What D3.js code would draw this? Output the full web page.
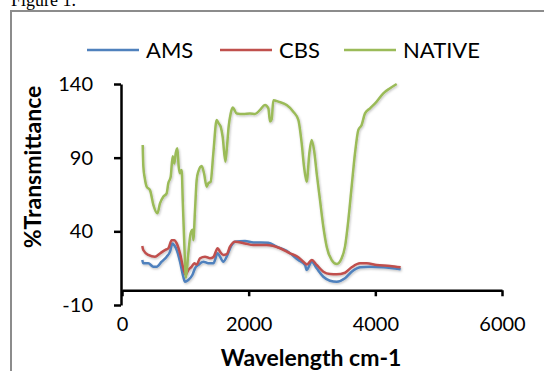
<!DOCTYPE html>
<html>
<head>
<meta charset="utf-8">
<script src="https://cdn.jsdelivr.net/npm/d3@7"></script>
<style>
  body { margin: 0; background: #fff; }
  svg { display: block; }
</style>
</head>
<body>
<div id="chart-area"></div>
<script>
// wavenumbers (cm-1) and %T
const amsWave = [320, 336, 415, 495, 548, 626, 705, 758, 795, 826, 864, 916, 968, 995, 1047, 1111, 1153, 1205, 1284, 1363, 1442, 1511, 1547, 1600, 1653, 1732, 1784, 1942, 2074, 2311, 2442, 2600, 2784, 2890, 2916, 2995, 3074, 3179, 3284, 3390, 3521, 3626, 3758, 3916, 4126, 4400]
const amsT = [20.5, 18.3, 18.3, 16, 16, 19.4, 22.8, 26.2, 31.8, 30.5, 27.3, 19.4, 9.2, 5.8, 7, 10.4, 14.9, 17.2, 19.4, 18.3, 18.3, 25.1, 22.8, 19.4, 22.8, 30.7, 33, 33.4, 32.5, 32.3, 29.6, 26.8, 20.5, 17.2, 13.8, 19.4, 14.9, 9.2, 6.5, 5.8, 8.1, 12.6, 15.6, 16, 15.6, 14.2]

const cbsWave = [320, 336, 415, 521, 600, 679, 731, 785, 826, 864, 916, 968, 1006, 1047, 1100, 1142, 1179, 1232, 1311, 1389, 1442, 1511, 1547, 1600, 1653, 1705, 1784, 1942, 2074, 2284, 2495, 2653, 2784, 2890, 2920, 2995, 3074, 3179, 3284, 3390, 3521, 3626, 3758, 3863, 4021, 4232, 4400]
const cbsT = [30, 27.3, 24, 22.8, 25, 27.3, 28.4, 34, 34, 31.8, 25, 15, 10.5, 13.8, 16, 18.3, 17.5, 21.7, 22.8, 21.7, 22.5, 28.5, 26.2, 24, 24.5, 29.6, 33, 31.8, 30.7, 30.7, 28.5, 25.1, 22.4, 18.3, 17.5, 20.5, 17.2, 12.6, 11, 10.8, 11.9, 15.6, 18.3, 18.3, 17.2, 16.5, 15.6]

const nativeWave = [327, 337, 360, 390, 442, 495, 558, 600, 652, 705, 731, 769, 800, 826, 848, 874, 895, 916, 942, 960, 985, 1010, 1047, 1084, 1116, 1126, 1153, 1179, 1205, 1258, 1295, 1337, 1363, 1400, 1442, 1495, 1526, 1558, 1590, 1632, 1653, 1684, 1716, 1748, 1811, 1916, 2021, 2100, 2179, 2258, 2311, 2337, 2363, 2390, 2468, 2600, 2705, 2784, 2837, 2874, 2916, 2958, 2995, 3032, 3074, 3126, 3179, 3232, 3311, 3390, 3468, 3521, 3574, 3626, 3679, 3732, 3784, 3837, 3916, 4021, 4126, 4232, 4337]
const nativeT = [98.6, 84, 76, 70.3, 68, 58, 52.2, 59, 63.5, 65.8, 72.6, 77, 91, 86, 93, 96.4, 84, 79.4, 81.6, 60, 30, 8.5, 25, 38.7, 41, 34, 54.5, 74.8, 80.5, 84.3, 79.4, 70.3, 72.6, 73.7, 93, 115.6, 113.3, 111, 104, 87.3, 95, 111, 120, 124, 120, 119.6, 120, 119.6, 122.4, 125.7, 123.5, 114.5, 116, 129, 128, 125.7, 121.2, 115.6, 99.8, 84, 73.7, 93, 102, 95.2, 79.4, 61.3, 43.1, 29.6, 20.5, 17.8, 21.7, 29.6, 47.7, 70.3, 93, 108.8, 112.2, 120.1, 123.5, 128, 133.7, 137.1, 140]

const seriesNames = ["AMS", "CBS", "NATIVE"]
const seriesColors = ["#4F81BD", "#C0504D", "#9BBB59"]
const xTicks = [0, 2000, 4000, 6000]
const yTicks = [-10, 40, 90, 140]

const W = 544, H = 371
const FONT = "Lato, Calibri, Carlito, sans-serif"

const svg = d3.select("#chart-area")
  .append("svg")
    .attr("width", W)
    .attr("height", H)

// drop shadow like the office chart lines
const filt = svg.append("defs").append("filter")
  .attr("id", "shadow")
  .attr("x", "-5%").attr("y", "-5%")
  .attr("width", "110%").attr("height", "110%")
filt.append("feDropShadow")
  .attr("dx", 0.8).attr("dy", 1.2)
  .attr("stdDeviation", 0.9)
  .attr("flood-color", "#000")
  .attr("flood-opacity", 0.25)

// caption, cut at the top like in the scan
svg.append("text")
  .attr("x", 11)
  .attr("y", 6)
  .attr("font-family", "'Liberation Serif', 'Times New Roman', serif")
  .attr("font-size", "18px")
  .text("Figure 1.")

// chart border (runs off the frame on right and bottom)
svg.append("rect")
  .attr("x", 11)
  .attr("y", 11)
  .attr("width", 600)
  .attr("height", 400)
  .attr("fill", "none")
  .attr("stroke", "#8c8c8c")
  .attr("stroke-width", 2)

const x = d3.scaleLinear()
  .domain([0, 6000])
  .range([122, 502])

const y = d3.scaleLinear()
  .domain([-10, 140])
  .range([305, 84])

// y axis
const yAxis = svg.append("g")
  .attr("transform", "translate(121, 0)")
  .call(d3.axisLeft(y).tickValues(yTicks).tickFormat(d => String(d))
    .tickSize(7).tickSizeOuter(0).tickPadding(21))
yAxis.selectAll("path, line").attr("stroke", "#000").attr("stroke-width", 2.5)
yAxis.selectAll("text")
  .attr("font-family", FONT)
  .attr("font-size", "20px")
  .attr("fill", "#000")

// x axis crosses at 0
const xAxis = svg.append("g")
  .attr("transform", `translate(0, ${y(0)})`)
  .call(d3.axisBottom(x).tickValues(xTicks).tickFormat(d => String(d))
    .tickSize(6).tickSizeOuter(0).tickPadding(21))
xAxis.selectAll("path, line").attr("stroke", "#000").attr("stroke-width", 2.5)
xAxis.selectAll("text")
  .attr("font-family", FONT)
  .attr("font-size", "20px")
  .attr("fill", "#000")

// axis titles
svg.append("text")
  .attr("x", 311)
  .attr("y", 366)
  .attr("text-anchor", "middle")
  .attr("font-family", FONT)
  .attr("font-weight", "bold")
  .attr("font-size", "23px")
  .text("Wavelength cm-1")

svg.append("text")
  .attr("transform", "translate(41, 167) rotate(-90)")
  .attr("text-anchor", "middle")
  .attr("font-family", FONT)
  .attr("font-weight", "bold")
  .attr("font-size", "23px")
  .text("%Transmittance")

const line = d3.line()
  .x(d => x(d[0]))
  .y(d => y(d[1]))
  .curve(d3.curveMonotoneX)

const series = [
  d3.zip(amsWave, amsT),
  d3.zip(cbsWave, cbsT),
  d3.zip(nativeWave, nativeT)
]

svg.append("g")
  .attr("filter", "url(#shadow)")
  .selectAll("path")
  .data(series)
  .enter().append("path")
    .attr("d", line)
    .attr("fill", "none")
    .attr("stroke", (d, i) => seriesColors[i])
    .attr("stroke-width", 2.5)
    .attr("stroke-linejoin", "round")

// legend
const legendX = [87, 220, 344]
const legend = svg.selectAll(".legend")
  .data(seriesNames)
  .enter().append("g")
    .attr("class", "legend")
    .attr("transform", (d, i) => `translate(${legendX[i]}, 50)`)
legend.append("line")
  .attr("x1", 0).attr("x2", 52)
  .attr("stroke", (d, i) => seriesColors[i])
  .attr("stroke-width", 2.5)
legend.append("text")
  .attr("x", 59)
  .attr("dy", "0.36em")
  .attr("font-family", FONT)
  .attr("font-size", "22px")
  .text(d => d)
</script>
</body>
</html>
